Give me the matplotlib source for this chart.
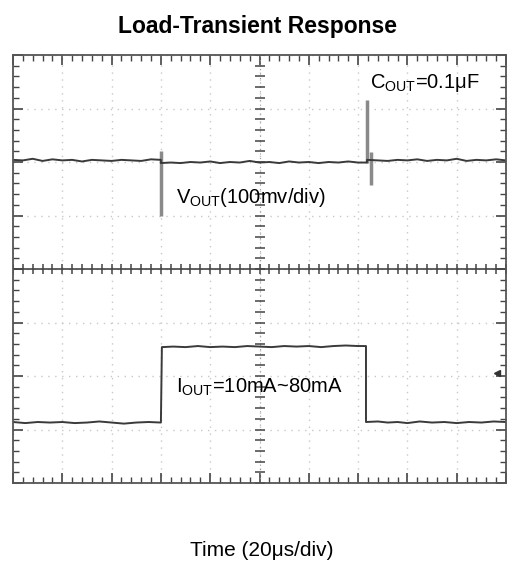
import numpy as np
import matplotlib
matplotlib.use("Agg")
import matplotlib.pyplot as plt

plt.rcParams['font.family'] = ['Liberation Sans', 'DejaVu Sans']
plt.rcParams['mathtext.fontset'] = 'custom'
plt.rcParams['mathtext.rm'] = 'Liberation Sans'

# time axis in scope divisions (20us/div), amplitude in divisions
vout_t = [0.0, 0.2, 0.4, 0.6, 0.8, 1.0, 1.2, 1.4, 1.6, 1.8, 2.0, 2.2, 2.4, 2.6, 2.8, 3.0,
          3.0, 3.2, 3.4, 3.6, 3.8, 4.0, 4.2, 4.4, 4.6, 4.8, 5.0, 5.2, 5.4, 5.6, 5.8, 6.0,
          6.2, 6.4, 6.6, 6.8, 7.0, 7.18,
          7.18, 7.4, 7.6, 7.8, 8.0, 8.2, 8.4, 8.6, 8.8, 9.0, 9.2, 9.4, 9.6, 9.8, 10.0]
vout_v = [2.04, 2.03, 2.06, 2.02, 2.05, 2.03, 2.04, 2.01, 2.04, 2.03, 2.02, 2.04, 2.03, 2.02, 2.05, 2.04,
          1.98, 1.99, 1.98, 2.00, 1.99, 2.01, 1.98, 2.00, 1.99, 2.02, 1.99, 2.00, 1.98, 2.01, 1.99, 2.00,
          1.98, 2.00, 1.99, 2.01, 1.99, 1.99,
          2.04, 2.03, 2.02, 2.04, 2.03, 2.05, 2.02, 2.04, 2.03, 2.06, 2.02, 2.04, 2.03, 2.05, 2.03]

spike_t = [3.0, 7.18, 7.26]
spike_hi = [2.2, 3.16, 2.18]
spike_lo = [1.0, 1.98, 1.57]

iout_t = [0.0, 0.25, 0.5, 0.75, 1.0, 1.25, 1.5, 1.75, 2.0, 2.25, 2.5, 2.75, 3.0,
          3.02, 3.25, 3.5, 3.75, 4.0, 4.25, 4.5, 4.75, 5.0, 5.25, 5.5, 5.75, 6.0,
          6.25, 6.5, 6.75, 7.0, 7.16,
          7.16, 7.4, 7.6, 7.8, 8.0, 8.25, 8.5, 8.75, 9.0, 9.25, 9.5, 9.75, 10.0]
iout_v = [-2.86, -2.88, -2.86, -2.87, -2.86, -2.88, -2.87, -2.85, -2.87, -2.89, -2.87, -2.86, -2.87,
          -1.46, -1.45, -1.46, -1.44, -1.46, -1.45, -1.46, -1.44, -1.45, -1.46, -1.44, -1.45, -1.44,
          -1.46, -1.44, -1.43, -1.44, -1.44,
          -2.86, -2.85, -2.87, -2.86, -2.88, -2.85, -2.87, -2.86, -2.88, -2.86, -2.87, -2.85, -2.86]

marker_x = [9.82]
marker_y = [-1.94]

fig = plt.figure(figsize=(5.07, 5.63), dpi=100)
ax = fig.add_axes([13 / 507, 1 - 483 / 563, 493 / 507, 428 / 563])

ax.set_xlim(0, 10)
ax.set_ylim(-4, 4)
ax.set_xticks(np.arange(0, 11, 1))
ax.set_yticks(np.arange(-4, 5, 1))
ax.set_xticks(np.arange(0, 10.01, 0.2), minor=True)
ax.set_yticks(np.arange(-4, 4.01, 0.2), minor=True)
ax.set_xticklabels([])
ax.set_yticklabels([])
ax.tick_params(which='both', direction='in', top=True, right=True, color='#444444')
ax.tick_params(which='major', length=7, width=1.2)
ax.tick_params(which='minor', length=4, width=1.0)
for s in ax.spines.values():
    s.set_color('#555555')
    s.set_linewidth(1.3)
ax.grid(True, which='major', linestyle=(0, (1, 4)), color='#c8c8c8', linewidth=1.0)

# centre cross with graticule ticks
ax.axhline(0, color='#444444', lw=1.2)
ax.axvline(5, color='#9a9a9a', lw=0.8, linestyle=(0, (1, 3)))
xt = np.arange(0, 10.01, 0.2)
yt = np.arange(-4, 4.01, 0.2)
ax.plot(xt, np.zeros_like(xt), ls='none', marker='|', ms=7, mew=1.1, color='#444444')
ax.plot(np.full_like(yt, 5), yt, ls='none', marker='_', ms=7, mew=1.1, color='#444444')

# traces
ax.vlines(spike_t, spike_lo, spike_hi, color='#8a8a8a', lw=2.5)
ax.plot(vout_t, vout_v, color='#3a3a3a', lw=1.4)
ax.plot(iout_t, iout_v, color='#3a3a3a', lw=1.4)
ax.plot(marker_x, marker_y, ls='none', marker='<', ms=4, color='#333333')

ax.text(7.25, 3.47, r'C$_{\mathrm{OUT}}$=0.1μF', fontsize=14.5, ha='left', va='center')
ax.text(3.3, 1.33, r'V$_{\mathrm{OUT}}$(100mv/div)', fontsize=14.5, ha='left', va='center')
ax.text(3.3, -2.22, r'I$_{\mathrm{OUT}}$=10mA~80mA', fontsize=14.5, ha='left', va='center')

fig.text(258 / 507, 1 - 26 / 563, 'Load-Transient Response', fontsize=16.5,
         fontweight='bold', ha='center', va='center')
fig.text(262 / 507, 1 - 550 / 563, 'Time (20μs/div)', fontsize=15, ha='center', va='center')

fig.savefig('out.png', dpi=100)
